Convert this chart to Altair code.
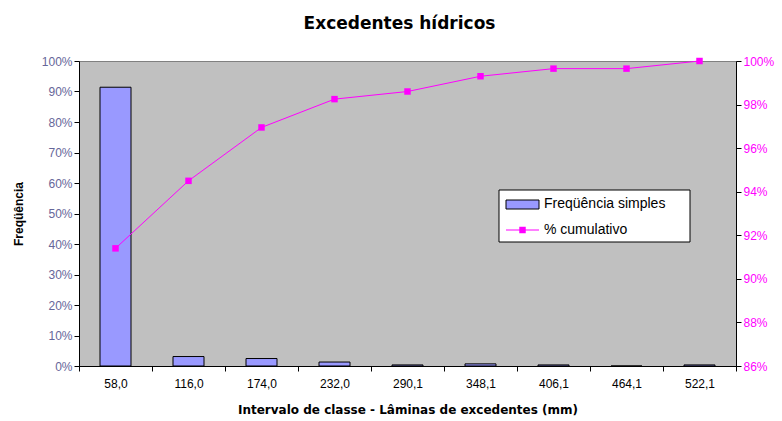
import altair as alt
import pandas as pd

# Class intervals (upper limits of excess-water depth classes, mm)
intervalos = ["58,0", "116,0", "174,0", "232,0", "290,1", "348,1", "406,1", "464,1", "522,1"]
# Simple frequency of each class (fraction)
frequencia = [0.914, 0.031, 0.0245, 0.013, 0.0035, 0.007, 0.0035, 0.0, 0.0035]
# Cumulative percentage (fraction)
cumulativo = [0.914, 0.945, 0.9695, 0.9825, 0.986, 0.993, 0.9965, 0.9965, 1.0]

df = pd.DataFrame({"intervalo": intervalos, "freq": frequencia, "cum": cumulativo})
one = pd.DataFrame({"k": [0]})  # single row for legend pieces

FONT = "Liberation Sans"
WIDE = "DejaVu Sans"
W, H = 657, 305

x_enc = alt.X(
    "intervalo:N",
    sort=intervalos,
    scale=alt.Scale(paddingInner=0, paddingOuter=0),
    axis=alt.Axis(
        title="Intervalo de classe - Lâminas de excedentes (mm)",
        titleFont=WIDE, titleFontSize=12, titleFontWeight="bold", titleColor="black",
        titlePadding=15,
        labelFont=FONT, labelFontSize=12, labelColor="black", labelAngle=0,
        labelPadding=7,
        tickBand="extent", tickSize=5, tickColor="black",
        domainColor="black", grid=False,
    ),
)

bars = alt.Chart(df).mark_bar(
    width=31, fill="#9999ff", stroke="black", strokeWidth=1
).encode(
    x=x_enc,
    y=alt.Y(
        "freq:Q",
        scale=alt.Scale(domain=[0, 1], nice=False),
        axis=alt.Axis(
            title="Freqüência", format=".0%",
            values=[i / 10 for i in range(11)],
            titleFont=FONT, titleFontSize=12, titleFontWeight="bold", titleColor="black",
            titlePadding=16,
            labelFont=FONT, labelFontSize=12, labelColor="#666699",
            tickSize=5, tickColor="black", domainColor="black", grid=False,
        ),
    ),
)

line = alt.Chart(df).mark_line(
    color="#ff00ff", strokeWidth=1,
    point=alt.OverlayMarkDef(shape="square", size=42, filled=True, color="#ff00ff"),
).encode(
    x=alt.X("intervalo:N", sort=intervalos),
    y=alt.Y(
        "cum:Q",
        scale=alt.Scale(domain=[0.86, 1.0], nice=False),
        axis=alt.Axis(
            title=None, format=".0%", orient="right",
            values=[0.86, 0.88, 0.90, 0.92, 0.94, 0.96, 0.98, 1.0],
            labelFont=FONT, labelFontSize=12, labelColor="#ff00ff",
            tickSize=5, tickColor="black", domainColor="black", grid=False,
        ),
    ),
)

# Legend box drawn in the plot area
legend_box = alt.Chart(one).mark_rect(fill="white", stroke="black", strokeWidth=1).encode(
    x=alt.value(420), x2=alt.value(611), y=alt.value(129), y2=alt.value(181)
)
legend_bar = alt.Chart(one).mark_rect(fill="#9999ff", stroke="black", strokeWidth=1).encode(
    x=alt.value(427), x2=alt.value(460), y=alt.value(139), y2=alt.value(148)
)
legend_line = alt.Chart(one).mark_rule(color="#ff00ff", strokeWidth=1).encode(
    x=alt.value(427), x2=alt.value(460), y=alt.value(169)
)
legend_pt = alt.Chart(one).mark_square(size=42, color="#ff00ff", opacity=1, filled=True).encode(
    x=alt.value(443.5), y=alt.value(169)
)
legend_t1 = alt.Chart(one).mark_text(
    text="Freqüência simples", font=FONT, fontSize=14, align="left", baseline="middle", color="black"
).encode(x=alt.value(465), y=alt.value(143))
legend_t2 = alt.Chart(one).mark_text(
    text="% cumulativo", font=FONT, fontSize=14, align="left", baseline="middle", color="black"
).encode(x=alt.value(465), y=alt.value(169))

legend = legend_box + legend_bar + legend_line + legend_pt + legend_t1 + legend_t2

chart = alt.layer(bars, line, legend).resolve_scale(y="independent").properties(
    width=W, height=H,
    padding={"left": 79, "top": 61, "right": 46, "bottom": 55},
    autosize=alt.AutoSizeParams(type="none"),
    background="white",
    title=alt.TitleParams(
        "Excedentes hídricos", font=WIDE, fontSize=17, fontWeight="bold", color="black",
        anchor="middle", offset=22, dx=-8,
    ),
).configure_view(fill="#c0c0c0", stroke="#808080", strokeWidth=1)

chart.save("out.html", embed_options={"renderer": "svg", "actions": False})
